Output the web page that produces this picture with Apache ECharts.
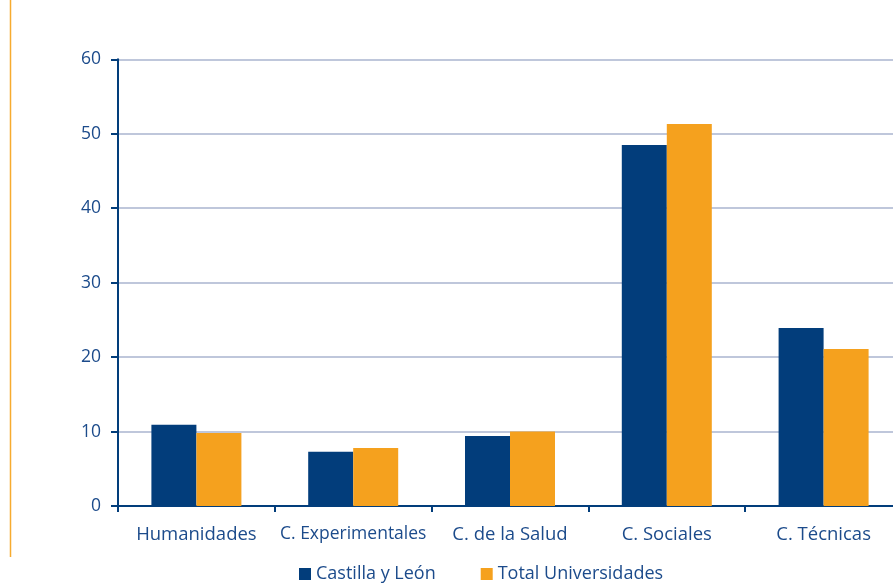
<!DOCTYPE html>
<html>
<head>
<meta charset="utf-8">
<script src="https://cdn.jsdelivr.net/npm/echarts@6/dist/echarts.min.js"></script>
<style>
  html, body { margin: 0; padding: 0; background: #ffffff; overflow: hidden; }
  #chart { width: 902px; height: 583px; }
</style>
</head>
<body>
<div id="chart"></div>
<script>
// Distribución por rama de conocimiento (%)
const categories = ['Humanidades', 'C. Experimentales', 'C. de la Salud', 'C. Sociales', 'C. Técnicas'];
const castillaLeon = [10.9, 7.3, 9.4, 48.5, 23.9];
const totalUniversidades = [9.8, 7.8, 10.0, 51.3, 21.1];
const yTicks = [0, 10, 20, 30, 40, 50, 60];

const seriesNames = ['Castilla y León', 'Total Universidades'];
const navy = '#023d7b';
const orange = '#f5a11e';
const textColor = '#1c4b8b';
const fontFamily = '"Open Sans", "Noto Sans", sans-serif';

const chart = echarts.init(document.getElementById('chart'), null, { renderer: 'canvas' });

chart.setOption({
  animation: false,
  backgroundColor: '#ffffff',
  grid: { left: 118, top: 59.3, right: 0, bottom: 77, containLabel: false },
  legend: {
    data: seriesNames,
    left: 299,
    top: 565,
    padding: 0,
    icon: 'rect',
    itemWidth: 12,
    itemHeight: 12,
    itemGap: 45,
    textStyle: { color: textColor, fontSize: 18, fontFamily: fontFamily, padding: [0, 0, 0, 0] }
  },
  xAxis: {
    type: 'category',
    data: categories,
    axisLine: { lineStyle: { color: navy, width: 2 } },
    axisTick: { show: true, length: 6, lineStyle: { color: navy, width: 2 } },
    axisLabel: {
      color: textColor,
      fontFamily: fontFamily,
      fontSize: 18.5,
      margin: 19,
      interval: 0,
      formatter: function (v) { return v === 'C. Experimentales' ? '{s|' + v + '}' : v; },
      rich: { s: { fontSize: 17.5, color: textColor, fontFamily: fontFamily } }
    }
  },
  yAxis: {
    type: 'value',
    min: yTicks[0],
    max: yTicks[yTicks.length - 1],
    interval: 10,
    axisLine: { show: true, lineStyle: { color: navy, width: 2 } },
    axisTick: { show: true, length: 7, lineStyle: { color: navy, width: 2 } },
    axisLabel: { color: textColor, fontFamily: fontFamily, fontSize: 17.5, margin: 17 },
    splitLine: { show: true, lineStyle: { color: '#aab4cf', width: 1.5 } }
  },
  series: [
    {
      name: seriesNames[0],
      type: 'bar',
      data: castillaLeon,
      barWidth: 45,
      barGap: '0%',
      itemStyle: { color: navy }
    },
    {
      name: seriesNames[1],
      type: 'bar',
      data: totalUniversidades,
      barWidth: 45,
      barGap: '0%',
      itemStyle: { color: orange }
    }
  ],
  graphic: [
    {
      type: 'line',
      shape: { x1: 10.5, y1: 0, x2: 10.5, y2: 557 },
      style: { stroke: '#f7ab2f', lineWidth: 1.5 },
      z: 10
    }
  ]
});
</script>
</body>
</html>
